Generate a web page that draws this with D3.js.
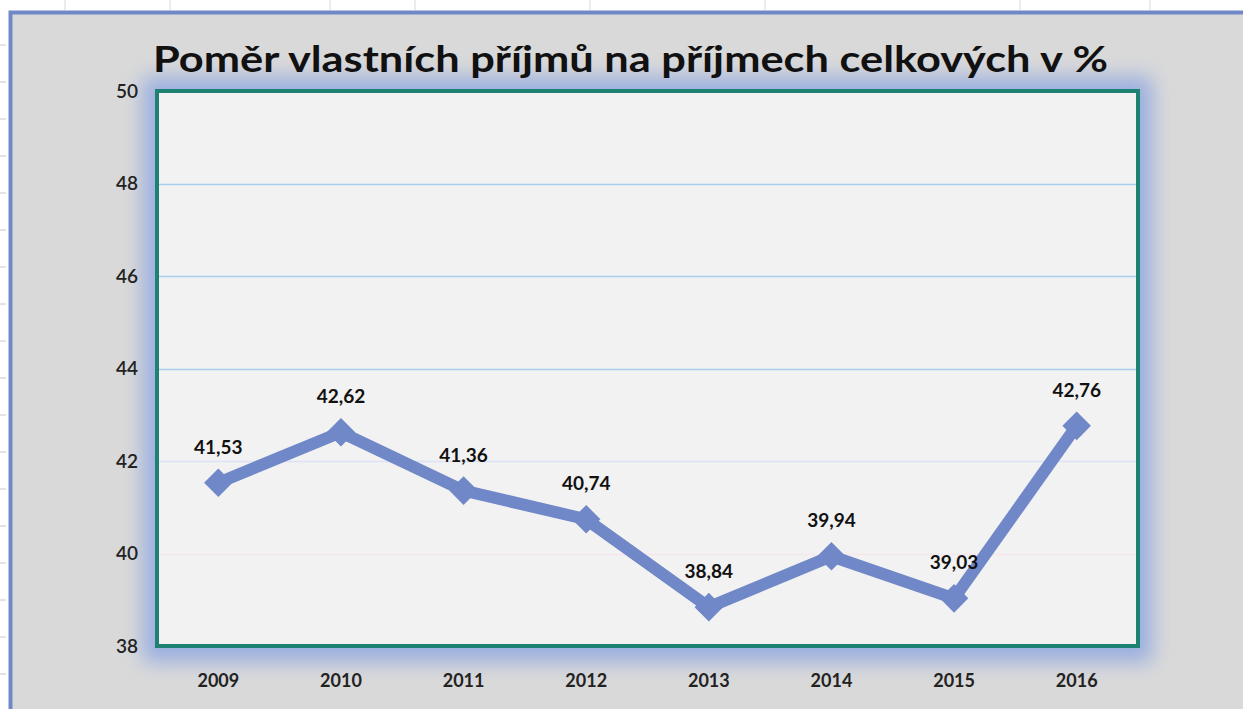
<!DOCTYPE html>
<html>
<head>
<meta charset="utf-8">
<script src="https://cdn.jsdelivr.net/npm/d3@7"></script>
<style>
  body { margin: 0; background: #fff; }
  svg { display: block; font-family: Lato, "Open Sans", sans-serif; }
</style>
</head>
<body>
<div id="app"></div>
<script>
const years = ['2009', '2010', '2011', '2012', '2013', '2014', '2015', '2016'];
const values = [41.53, 42.62, 41.36, 40.74, 38.84, 39.94, 39.03, 42.76];
const yTicks = [38, 40, 42, 44, 46, 48, 50];
const gridColors = { 40: '#f6e6ee', 42: '#dbe3f5', 44: '#a9cdef', 46: '#a9cdef', 48: '#a9cdef' };
const title = 'Poměr vlastních příjmů na příjmech celkových v %';

const width = 1243;
const height = 709;
const plot = { left: 157, top: 91, right: 1138, bottom: 646 };

const svg = d3.select('#app').append('svg')
  .attr('width', width)
  .attr('height', height);

const defs = svg.append('defs');
defs.append('filter')
  .attr('id', 'glow')
  .attr('x', '-10%').attr('y', '-10%')
  .attr('width', '120%').attr('height', '120%')
  .append('feGaussianBlur')
  .attr('stdDeviation', 10);

// spreadsheet strip + frame
svg.append('rect').attr('width', width).attr('height', height).attr('fill', '#ffffff');
[65, 170, 330, 415, 590, 765, 1020, 1150].forEach(x => {
  svg.append('line')
    .attr('x1', x).attr('x2', x).attr('y1', 0).attr('y2', 10)
    .attr('stroke', '#d8d8d8');
});
d3.range(45, 709, 37).forEach(y => {
  svg.append('line')
    .attr('x1', 0).attr('x2', 6).attr('y1', y).attr('y2', y)
    .attr('stroke', '#c8c8c8');
});
svg.append('rect')
  .attr('x', 9).attr('y', 12)
  .attr('width', width - 9).attr('height', height - 12)
  .attr('fill', '#d9d9d9');
svg.append('path')
  .attr('d', `M10.5,${height} V12.5 H${width}`)
  .attr('fill', 'none')
  .attr('stroke', '#7088c8')
  .attr('stroke-width', 4);

// glow behind plot area
svg.append('rect')
  .attr('x', plot.left - 14).attr('y', plot.top - 14)
  .attr('width', plot.right - plot.left + 28)
  .attr('height', plot.bottom - plot.top + 30)
  .attr('fill', '#9aaee0')
  .attr('filter', 'url(#glow)');

// title
svg.append('text')
  .attr('x', 153).attr('y', 72)
  .attr('textLength', 955)
  .attr('lengthAdjust', 'spacingAndGlyphs')
  .attr('font-size', 36)
  .attr('font-weight', 'bold')
  .attr('fill', '#111')
  .text(title);

svg.append('rect')
  .attr('x', plot.left).attr('y', plot.top)
  .attr('width', plot.right - plot.left)
  .attr('height', plot.bottom - plot.top)
  .attr('fill', '#f2f2f2');

const x = d3.scaleBand()
  .domain(years)
  .range([plot.left, plot.right]);

const y = d3.scaleLinear()
  .domain([38, 50])
  .range([plot.bottom, plot.top]);

// gridlines
svg.append('g')
  .selectAll('line')
  .data(yTicks.filter(t => gridColors[t]))
  .join('line')
  .attr('x1', plot.left).attr('x2', plot.right)
  .attr('y1', d => Math.round(y(d)) + 0.5)
  .attr('y2', d => Math.round(y(d)) + 0.5)
  .attr('stroke', d => gridColors[d])
  .attr('stroke-width', 1.5);

// plot border
svg.append('rect')
  .attr('x', plot.left).attr('y', plot.top)
  .attr('width', plot.right - plot.left)
  .attr('height', plot.bottom - plot.top)
  .attr('fill', 'none')
  .attr('stroke', '#1d8272')
  .attr('stroke-width', 4);

// axes
const yAxis = svg.append('g')
  .attr('transform', `translate(${plot.left - 19},0)`)
  .call(d3.axisLeft(y).tickValues(yTicks).tickSize(0).tickPadding(0));
yAxis.select('.domain').remove();
yAxis.selectAll('text')
  .attr('font-family', 'Lato, sans-serif')
  .attr('font-size', 19)
  .attr('font-weight', 600)
  .attr('fill', '#222');

const xAxis = svg.append('g')
  .attr('transform', `translate(0,${plot.bottom + 28})`)
  .call(d3.axisBottom(x).tickSize(0).tickPadding(0));
xAxis.select('.domain').remove();
xAxis.selectAll('text')
  .attr('font-family', 'Lato, sans-serif')
  .attr('font-size', 18)
  .attr('font-weight', 'bold')
  .attr('fill', '#222');

// series
const cx = d => x(d) + x.bandwidth() / 2;
const pts = years.map((yr, i) => [cx(yr), y(values[i])]);

svg.append('path')
  .datum(pts)
  .attr('d', d3.line())
  .attr('fill', 'none')
  .attr('stroke', '#7088c8')
  .attr('stroke-width', 12)
  .attr('stroke-linejoin', 'miter');

svg.append('g')
  .selectAll('path')
  .data(pts)
  .join('path')
  .attr('transform', d => `translate(${d[0]},${d[1]})`)
  .attr('d', d3.symbol(d3.symbolDiamond2, 520))
  .attr('fill', '#7088c8');

svg.append('g')
  .selectAll('text')
  .data(values)
  .join('text')
  .attr('x', (d, i) => pts[i][0])
  .attr('y', (d, i) => pts[i][1] - 29)
  .attr('text-anchor', 'middle')
  .attr('font-family', 'Lato, sans-serif')
  .attr('font-size', 19)
  .attr('font-weight', 'bold')
  .attr('fill', '#111')
  .text(d => d.toFixed(2).replace('.', ','));
</script>
</body>
</html>
